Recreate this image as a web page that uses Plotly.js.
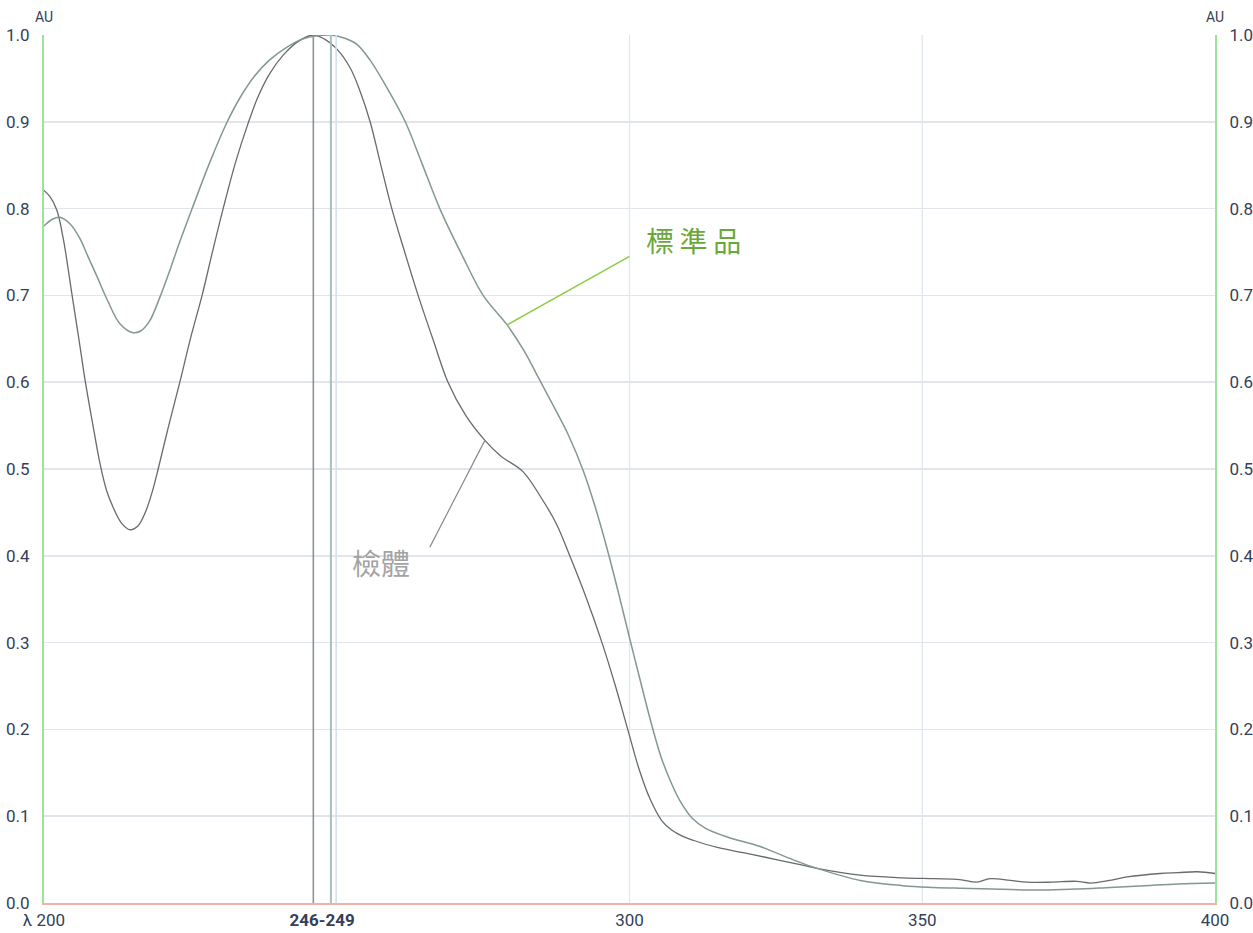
<!DOCTYPE html>
<html>
<head>
<meta charset="utf-8">
<script src="https://cdn.plot.ly/plotly-3.0.1.min.js"></script>
<style>html,body{margin:0;padding:0;background:#fff;}#chart{width:1253px;height:933px;}</style>
</head>
<body>
<div id="chart"></div>
<script>
// Wavelength (nm) and absorbance (AU)
const sampleX = [200,201,202.2,203.3,204.8,206,207,208.5,209.6,210.7,211.8,213.2,214.7,216,217.3,218.5,219.5,221.3,223.2,225,227.0,228.8,230.6,232.7,234.8,236.5,238.5,241,243.5,246,248,250,252.3,254,255.7,257.5,259.4,261.6,263.9,266.5,269.0,272,275.3,278,281.8,285,287.5,289.8,292.7,295.3,297.6,299.7,301.6,303.5,305.5,307.2,309,311,315,319.4,323,327.9,332.0,339.4,346.7,352,356.4,359.3,361.6,365,367.9,372,376.4,378.7,382,385.0,390.6,393.7,397,400];
const sampleY = [0.821,0.814,0.798,0.765,0.700,0.648,0.603,0.545,0.505,0.475,0.456,0.438,0.430,0.434,0.450,0.474,0.500,0.550,0.600,0.650,0.700,0.751,0.800,0.853,0.897,0.928,0.955,0.978,0.993,1.000,0.995,0.984,0.962,0.935,0.900,0.851,0.800,0.750,0.700,0.648,0.600,0.562,0.533,0.515,0.497,0.466,0.437,0.400,0.350,0.300,0.250,0.200,0.155,0.120,0.095,0.084,0.077,0.072,0.064,0.058,0.053,0.046,0.040,0.032,0.029,0.028,0.027,0.024,0.028,0.026,0.024,0.024,0.025,0.023,0.026,0.030,0.034,0.035,0.036,0.034];

const stdX = [200,201.5,202.7,204.5,206.1,207.5,209.1,210.8,213.0,215.2,216.5,218,219.8,221.5,223.2,225.3,228.3,231.3,233.5,236,238.5,241.5,244,246.5,249,251.5,253.5,255.7,258.5,261.7,264.5,267.6,271.5,275.0,279.1,282,284.7,287.3,289.5,292.1,294.2,296.3,298.2,300.1,302,303.8,305.4,306.9,308.6,310.8,313,316.7,322.3,327.9,332.0,339.4,346.7,352,356.4,362,370.6,376,382.1,388,393.7,400];
const stdY = [0.780,0.788,0.790,0.782,0.766,0.745,0.721,0.695,0.667,0.657,0.659,0.670,0.698,0.729,0.762,0.800,0.853,0.900,0.928,0.953,0.971,0.986,0.995,0.999,1.000,0.996,0.989,0.971,0.940,0.900,0.853,0.800,0.745,0.700,0.666,0.636,0.602,0.569,0.540,0.498,0.455,0.405,0.355,0.303,0.252,0.205,0.168,0.142,0.118,0.097,0.086,0.076,0.065,0.050,0.040,0.026,0.020,0.018,0.017,0.016,0.015,0.016,0.018,0.020,0.022,0.023];

const peakLines = [246, 249, 249.9];
const xGridVals = [300, 350];
const xTickVals = [200, 247.5, 300, 350, 400];
const xTickText = ['λ 200', '<b>246-249</b>', '300', '350', '400'];
const yTickVals = [0,0.1,0.2,0.3,0.4,0.5,0.6,0.7,0.8,0.9,1.0];
const yTickText = yTickVals.map(v => v.toFixed(1));
const unitLabel = 'AU';
const stdLabel = '標準品';
const sampleLabel = '檢體';

const tickColor = '#343f5a';
const tickFont = {family: 'Roboto, "Open Sans", sans-serif', size: 17, color: tickColor};

const traces = [
  {x: sampleX, y: sampleY, type: 'scatter', mode: 'lines', name: sampleLabel,
   line: {color: '#676b6b', width: 1.3, shape: 'spline', smoothing: 1}, hoverinfo: 'x+y'},
  {x: stdX, y: stdY, type: 'scatter', mode: 'lines', name: stdLabel, yaxis: 'y2',
   line: {color: '#84988f', width: 1.5, shape: 'spline', smoothing: 1}, hoverinfo: 'x+y'}
];

const shapes = [];
xGridVals.forEach(v => shapes.push({type: 'line', xref: 'x', yref: 'paper', x0: v, x1: v, y0: 0, y1: 1,
  line: {color: '#dde6ee', width: 1.2}, layer: 'below'}));
const peakColors = ['#8e9494', '#a9bfbf', '#d3e2e8'];
const peakWidths = [1.6, 2, 1.6];
peakLines.forEach((v, i) => shapes.push({type: 'line', xref: 'x', yref: 'paper', x0: v, x1: v, y0: 0, y1: 1,
  line: {color: peakColors[i], width: peakWidths[i]}, layer: 'above'}));
// leader lines for labels
shapes.push({type: 'line', xref: 'x', yref: 'y', x0: 279.1, y0: 0.666, x1: 300.0, y1: 0.745,
  line: {color: '#8ccc44', width: 1.5}});
shapes.push({type: 'line', xref: 'x', yref: 'y', x0: 275.3, y0: 0.533, x1: 265.9, y1: 0.410,
  line: {color: '#8a8a8a', width: 1.2}});

const annotations = [
  {xref: 'paper', yref: 'paper', x: 0, y: 1, yshift: 18, text: unitLabel, showarrow: false,
   font: {family: 'Roboto, sans-serif', size: 14, color: tickColor}, xanchor: 'center', yanchor: 'middle'},
  {xref: 'paper', yref: 'paper', x: 1, y: 1, yshift: 18, text: unitLabel, showarrow: false,
   font: {family: 'Roboto, sans-serif', size: 14, color: tickColor}, xanchor: 'center', yanchor: 'middle'},
  {xref: 'x', yref: 'y', x: 311.0, y: 0.764, text: '標&#8201;準&#8201;品', showarrow: false,
   font: {family: '"Noto Sans CJK TC", sans-serif', size: 28, color: '#6aa83a'}, xanchor: 'center', yanchor: 'middle'},
  {xref: 'x', yref: 'y', x: 257.5, y: 0.393, text: sampleLabel, showarrow: false,
   font: {family: '"Noto Sans CJK TC", sans-serif', size: 29, color: '#a3a3a3'}, xanchor: 'center', yanchor: 'middle'}
];

const layout = {
  width: 1253, height: 933,
  margin: {l: 44, r: 38, t: 35, b: 30},
  paper_bgcolor: '#ffffff', plot_bgcolor: '#ffffff',
  showlegend: false,
  xaxis: {range: [200, 400], tickmode: 'array', tickvals: xTickVals, ticktext: xTickText,
    showgrid: false, zeroline: false, showline: true, linecolor: '#f4b0a6', linewidth: 2,
    ticks: '', tickfont: tickFont, ticklabelstandoff: 1, fixedrange: true},
  yaxis: {range: [0, 1], tickmode: 'array', tickvals: yTickVals, ticktext: yTickText,
    showgrid: true, gridcolor: '#e2e5eb', gridwidth: 1.5, zeroline: false,
    showline: true, linecolor: '#9be39b', linewidth: 2, ticks: '', tickfont: tickFont,
    ticklabelstandoff: 9, fixedrange: true},
  yaxis2: {range: [0, 1], overlaying: 'y', side: 'right', tickmode: 'array', tickvals: yTickVals, ticktext: yTickText,
    showgrid: false, zeroline: false, showline: true, linecolor: '#9be39b', linewidth: 2,
    ticks: '', tickfont: tickFont, ticklabelstandoff: 9, fixedrange: true},
  shapes: shapes,
  annotations: annotations
};

Plotly.newPlot('chart', traces, layout, {displayModeBar: false, staticPlot: true});
</script>
</body>
</html>
